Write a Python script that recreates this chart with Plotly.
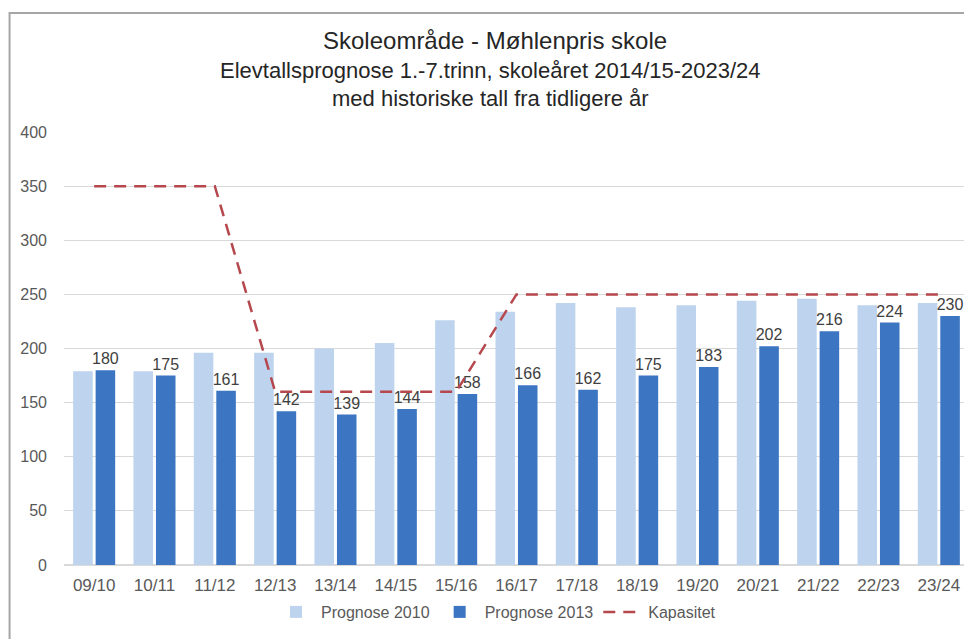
import plotly.graph_objects as go

categories = ["09/10", "10/11", "11/12", "12/13", "13/14", "14/15", "15/16", "16/17",
              "17/18", "18/19", "19/20", "20/21", "21/22", "22/23", "23/24"]
prognose_2010 = [179, 179, 196, 196, 200, 205, 226, 234, 242, 238, 240, 244, 246, 240, 242]
prognose_2013 = [180, 175, 161, 142, 139, 144, 158, 166, 162, 175, 183, 202, 216, 224, 230]
kapasitet = [350, 350, 350, 160, 160, 160, 160, 250, 250, 250, 250, 250, 250, 250, 250]

FONT = "Liberation Sans, Arial, sans-serif"

# page has an 8px body margin; figure is sized to fill the remaining window
OFF = 8
W, H = 972 - OFF, 639 - OFF
PL, PR, PT, PB = 63.5, 969.5, 132, 565  # plot area in screen pixels
L = PL - OFF
R = W - (PR - OFF)
T = PT - OFF
B = H - (PB - OFF)
pw = PR - PL
ph = PB - PT


def px(x):
    return (x - PL) / pw


def py(y):
    return (PB - y) / ph


fig = go.Figure()
fig.add_trace(go.Bar(x=categories, y=prognose_2010, name="Prognose 2010",
                     marker=dict(color="#BDD3EE", line=dict(width=0))))
fig.add_trace(go.Bar(x=categories, y=prognose_2013, name="Prognose 2013",
                     marker=dict(color="#3C75C2", line=dict(width=0)),
                     text=[str(v) for v in prognose_2013], textposition="outside",
                     constraintext="none",
                     textfont=dict(size=16, color="#404040", family=FONT),
                     cliponaxis=False))
fig.add_trace(go.Scatter(x=categories, y=kapasitet, name="Kapasitet", mode="lines",
                         line=dict(color="#B5474D", width=2.5, dash="12px,8px")))

fig.update_layout(
    width=W, height=H,
    margin=dict(l=L, r=R, t=T, b=B, autoexpand=False),
    paper_bgcolor="white", plot_bgcolor="white",
    barmode="group", bargap=0.255, bargroupgap=0.13,
    font=dict(family=FONT, color="#595959", size=16),
    showlegend=True,
    legend=dict(orientation="h", x=px(496), xanchor="center", y=py(612), yanchor="middle",
                font=dict(size=16, color="#595959", family=FONT), traceorder="normal",
                itemwidth=40, bgcolor="rgba(0,0,0,0)"),
    xaxis=dict(showgrid=False, showline=False, ticks="", automargin=False,
               tickfont=dict(size=17, color="#595959"), ticklabelstandoff=8),
    yaxis=dict(range=[0, 400], dtick=50, showgrid=True, gridcolor="#D9D9D9", gridwidth=1,
               zeroline=True, zerolinecolor="#D9D9D9", showline=False, ticks="", automargin=False,
               tickfont=dict(size=16, color="#595959"), ticklabelstandoff=16),
    annotations=[
        dict(text="Skoleområde - Møhlenpris skole", x=px(495), y=py(40), xref="paper", yref="paper",
             showarrow=False, font=dict(size=24, color="#262626", family=FONT),
             xanchor="center", yanchor="middle"),
        dict(text="Elevtallsprognose 1.-7.trinn, skoleåret 2014/15-2023/24", x=px(490), y=py(70),
             xref="paper", yref="paper", showarrow=False,
             font=dict(size=22, color="#262626", family=FONT), xanchor="center", yanchor="middle"),
        dict(text="med historiske tall fra tidligere år", x=px(490), y=py(98),
             xref="paper", yref="paper", showarrow=False,
             font=dict(size=22, color="#262626", family=FONT), xanchor="center", yanchor="middle"),
    ],
    shapes=[dict(type="rect", xref="paper", yref="paper", x0=px(9), x1=px(969), y0=py(660), y1=py(13),
                 line=dict(color="#A6A6A6", width=2), fillcolor="rgba(0,0,0,0)", layer="below")],
)

fig.write_html("out.html")
